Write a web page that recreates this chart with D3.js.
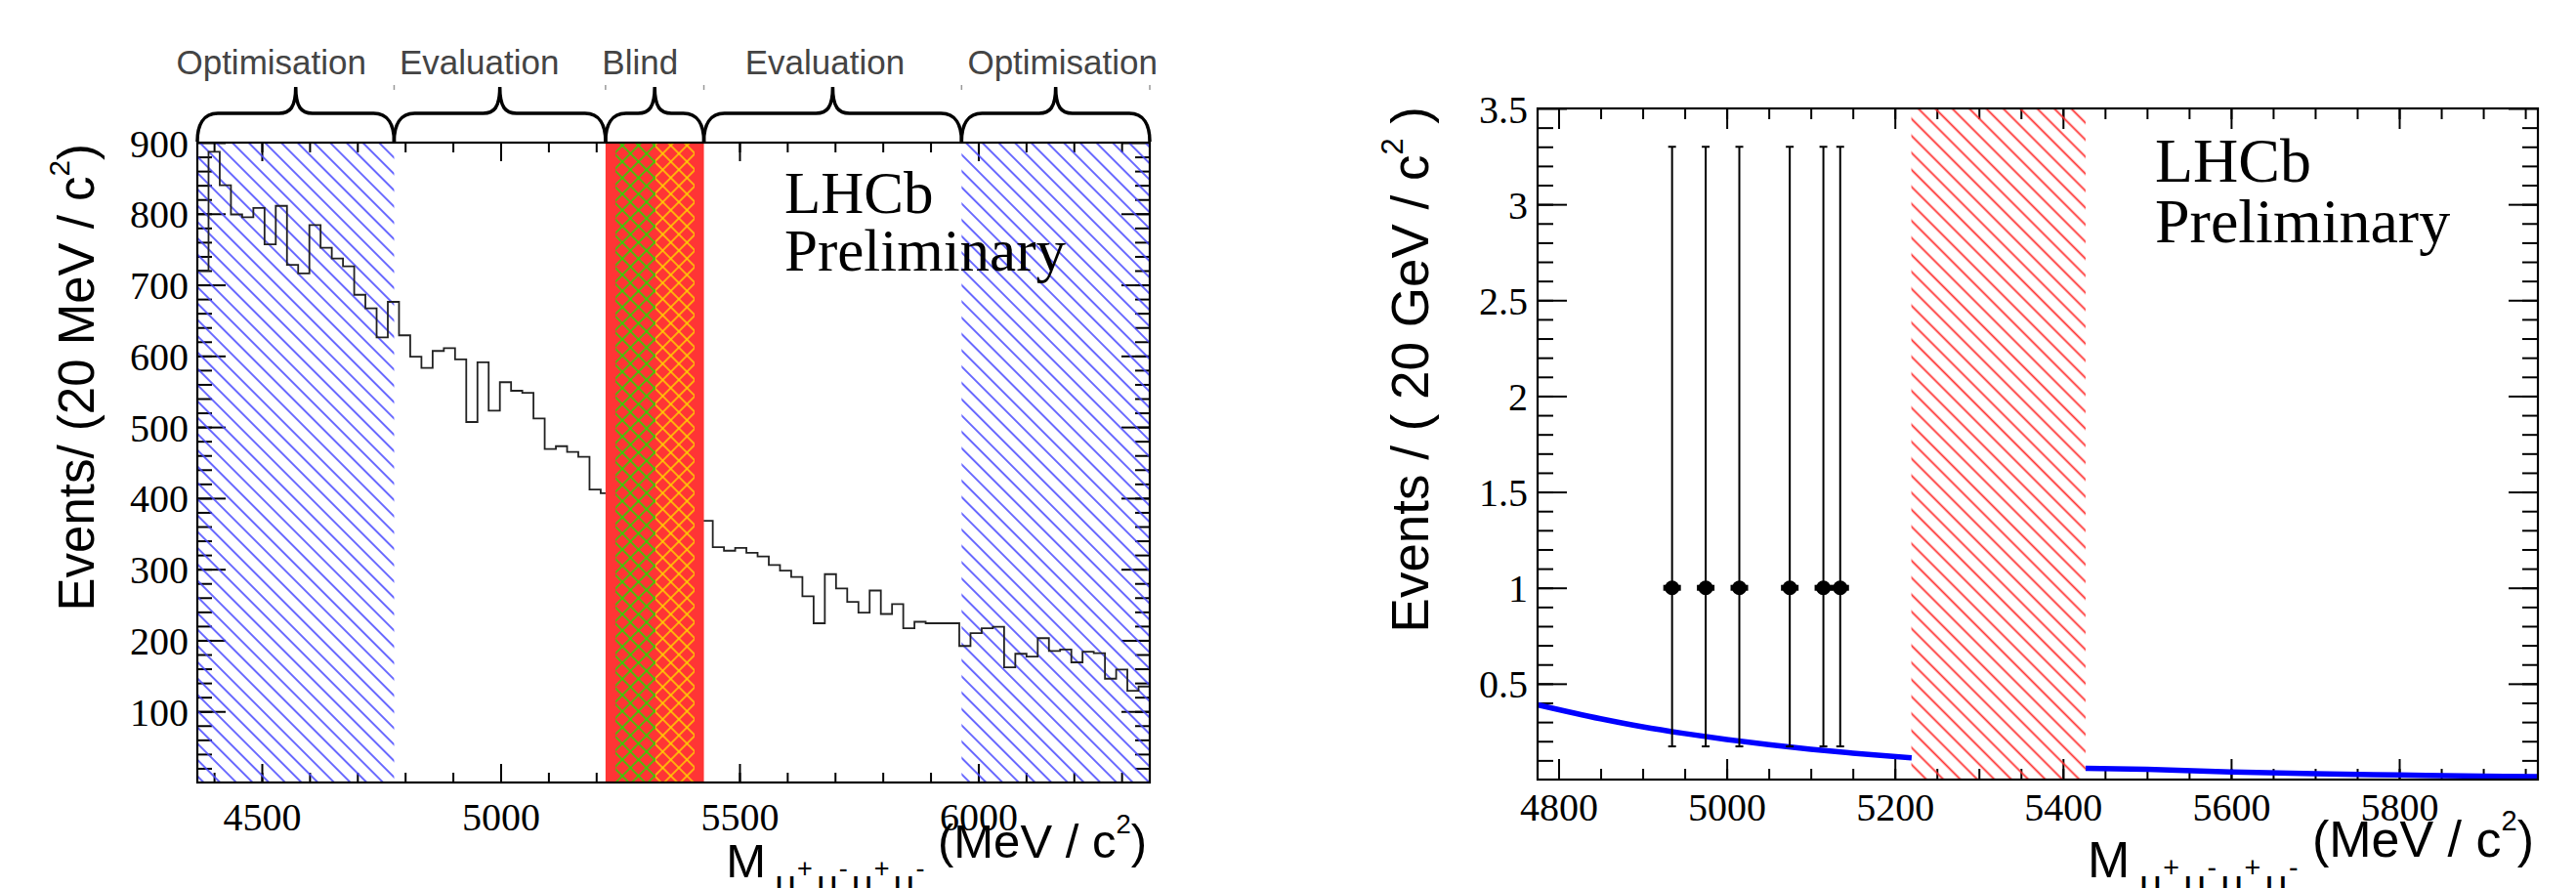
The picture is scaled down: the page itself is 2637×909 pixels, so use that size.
<!DOCTYPE html>
<meta charset="utf-8">
<script src="https://d3js.org/d3.v7.min.js"></script>
<style>
  body { margin: 0; background: #fff; }
</style>
<div id="chart"></div>
<script>

  // ---- left panel: 4-muon mass histogram ----
  const massRange = [4365, 6359];
  const massBins = 85;
  // counts per bin, bins inside the blind window are not shown
  const binCounts = [
    720, 887, 840, 799, 795, 808, 757, 811, 728, 716,
    784, 752, 737, 726, 686, 667, 626, 676, 629, 599,
    583, 607, 611, 595, 507, 591, 523, 563, 551, 548,
    512, 469, 473, 465, 458, 412, 407, null, null, null,
    null, null, null, null, null, 368, 331, 326, 330, 323,
    318, 306, 298, 289, 262, 224, 293, 273, 254, 239,
    270, 237, 251, 217, 226, 224, 224, 224, 192, 210,
    217, 219, 162, 181, 177, 203, 185, 187, 169, 184,
    182, 146, 159, 129, 135
  ];
  const regionEdges = [4365, 4777, 5219.6, 5425.5, 5965, 6359];
  const regionNames = ["Optimisation", "Evaluation", "Blind", "Evaluation", "Optimisation"];
  const regionKinds = ["opt", "eval", "blind", "eval", "opt"];
  const b0Window = [5240.5, 5324];
  const bsWindow = [5324, 5406];
  const xTicksL = [4500, 5000, 5500, 6000];
  const yTicksL = [100, 200, 300, 400, 500, 600, 700, 800, 900];

  // ---- right panel: events in the evaluation region ----
  const fitRange = [4775, 5965];
  const eventMass = [4935, 4975, 5015, 5075, 5115, 5135];
  const eventCount = [1, 1, 1, 1, 1, 1];
  const eventErrLow = [0.827, 0.827, 0.827, 0.827, 0.827, 0.827];
  const eventErrHigh = [2.30, 2.30, 2.30, 2.30, 2.30, 2.30];
  const fitLeftMass = [4775, 4850, 4900, 4950, 5000, 5050, 5100, 5150, 5220];
  const fitLeftVal = [0.39, 0.317, 0.275, 0.240, 0.209, 0.182, 0.158, 0.138, 0.113];
  const fitRightMass = [5427, 5500, 5600, 5700, 5800, 5900, 5965];
  const fitRightVal = [0.059, 0.053, 0.040, 0.031, 0.024, 0.018, 0.015];
  const blindR = [5219.6, 5426.9];
  const xTicksR = [4800, 5000, 5200, 5400, 5600, 5800];
  const yTicksR = [0.5, 1, 1.5, 2, 2.5, 3, 3.5];

  const W = 2637, H = 909;
  const sans = "'Liberation Sans', Arial, sans-serif";
  const serif = "'Liberation Serif', 'Times New Roman', serif";

  const svg = d3.select("#chart").append("svg")
      .attr("width", W)
      .attr("height", H);
  svg.append("rect").attr("width", W).attr("height", H).attr("fill", "#fff");

  const defs = svg.append("defs");

  // 45 degree hatch (single or crossed)
  function hatch(id, color, size, width, cross) {
    const p = defs.append("pattern")
        .attr("id", id)
        .attr("patternUnits", "userSpaceOnUse")
        .attr("width", size)
        .attr("height", size)
        .attr("patternTransform", cross ? "rotate(45)" : "rotate(-45)");
    p.append("line")
        .attr("x1", size / 2).attr("x2", size / 2)
        .attr("y1", 0).attr("y2", size)
        .attr("stroke", color).attr("stroke-width", width);
    if (cross) p.append("line")
        .attr("x1", 0).attr("x2", size)
        .attr("y1", size / 2).attr("y2", size / 2)
        .attr("stroke", color).attr("stroke-width", width);
  }
  hatch("blueHatch", "#4646ff", 11.8, 1.6, false);
  hatch("redHatch", "#ff3030", 12.3, 1.8, false);
  hatch("greenCross", "#1ee000", 11.7, 1.5, true);
  hatch("yellowCross", "#ffd400", 11.7, 1.5, true);

  const xL = d3.scaleLinear().domain(massRange).range([202, 1177]);
  const yL = d3.scaleLinear().domain([0, 900]).range([801, 146]);
  const xR = d3.scaleLinear().domain(fitRange).range([1574, 2598]);
  const yR = d3.scaleLinear().domain([0, 3.5]).range([798, 111]);

  // ticks on all four sides, pointing inwards (ROOT style)
  function drawTicks(x, y, o) {
    const [xa, xb] = x.range(), [yb, yt] = y.range();
    const g = svg.append("g");
    const side = (axis, tr, vals, len, labels) => {
      const a = g.append("g").attr("transform", tr)
          .call(axis.tickValues(vals).tickSize(-len).tickFormat(labels ? d3.format("") : ""));
      a.select(".domain").remove();
      a.selectAll("line").attr("stroke", "#000").attr("stroke-width", 2);
      return a;
    };
    side(d3.axisBottom(x), `translate(0,${yb})`, o.xMinor, o.xMinorLen);
    const bx = side(d3.axisBottom(x), `translate(0,${yb})`, o.xMajor, o.xMajorLen, true);
    side(d3.axisTop(x), `translate(0,${yt})`, o.xMinor, o.xMinorLen);
    side(d3.axisTop(x), `translate(0,${yt})`, o.xMajor, o.xMajorLen);
    side(d3.axisLeft(y), `translate(${xa},0)`, o.yMinor, o.yMinorLen);
    const ly = side(d3.axisLeft(y), `translate(${xa},0)`, o.yMajor, o.yMajorLen, true);
    side(d3.axisRight(y), `translate(${xb},0)`, o.yMinor, o.yMinorLen);
    side(d3.axisRight(y), `translate(${xb},0)`, o.yMajor, o.yMajorLen);
    [bx, ly].forEach(a => a.selectAll("text")
        .attr("font-family", serif)
        .attr("font-size", 40)
        .attr("fill", "#000"));
    bx.selectAll("text").attr("y", o.xLabelDy).attr("dy", null);
    ly.selectAll("text").attr("x", -o.yLabelGap).attr("y", 14).attr("dy", null);
  }

  function frame(x, y) {
    const [xa, xb] = x.range(), [yb, yt] = y.range();
    svg.append("rect")
        .attr("x", xa).attr("y", yt)
        .attr("width", xb - xa).attr("height", yb - yt)
        .attr("fill", "none").attr("stroke", "#000").attr("stroke-width", 2.2);
  }

  function band(x, y, from, to, fill) {
    const [yb, yt] = y.range();
    svg.append("rect")
        .attr("x", x(from)).attr("y", yt)
        .attr("width", x(to) - x(from)).attr("height", yb - yt)
        .attr("fill", fill);
  }

  // ================= left panel =================
  drawTicks(xL, yL, {
    xMajor: xTicksL, xMinor: d3.range(4400, 6400, 100), xMajorLen: 19, xMinorLen: 10,
    yMajor: yTicksL, yMinor: d3.range(20, 900, 20), yMajorLen: 29, yMinorLen: 15,
    xLabelDy: 49, yLabelGap: 9
  });

  regionKinds.forEach((k, i) => {
    if (k === "opt") band(xL, yL, regionEdges[i], regionEdges[i + 1], "url(#blueHatch)");
  });

  const binW = (massRange[1] - massRange[0]) / massBins;
  const steps = binCounts.flatMap((v, i) => [
    [massRange[0] + i * binW, v], [massRange[0] + (i + 1) * binW, v]
  ]);
  svg.append("path")
      .attr("d", d3.line()
        .defined(d => d[1] != null)
        .x(d => xL(d[0]))
        .y(d => yL(d[1]))(steps))
      .attr("fill", "none")
      .attr("stroke", "#222")
      .attr("stroke-width", 1.8);

  regionKinds.forEach((k, i) => {
    if (k === "blind") band(xL, yL, regionEdges[i], regionEdges[i + 1], "#ff3535");
  });
  band(xL, yL, b0Window[0], b0Window[1], "url(#greenCross)");
  band(xL, yL, bsWindow[0], bsWindow[1], "url(#yellowCross)");

  frame(xL, yL);

  // braces and region labels
  const braceBase = 145, braceArm = 116, braceTip = 89;
  const labelShift = [-25, -21, -15, -8, 7];
  function brace(a, b) {
    const c = (a + b) / 2;
    return `M${a},${braceBase} C${a},${braceArm + 12} ${a + 6},${braceArm} ${a + 21},${braceArm}` +
      ` L${c - 17},${braceArm} C${c - 6},${braceArm} ${c},${braceArm - 6} ${c},${braceTip}` +
      ` C${c},${braceArm - 6} ${c + 6},${braceArm} ${c + 17},${braceArm}` +
      ` L${b - 21},${braceArm} C${b - 6},${braceArm} ${b},${braceArm + 12} ${b},${braceBase}`;
  }
  regionNames.forEach((name, i) => {
    const a = xL(regionEdges[i]), b = xL(regionEdges[i + 1]);
    svg.append("path")
        .attr("d", brace(a, b))
        .attr("fill", "none")
        .attr("stroke", "#000")
        .attr("stroke-width", 3.5);
    svg.append("text")
        .attr("x", (a + b) / 2 + labelShift[i])
        .attr("y", 76)
        .attr("text-anchor", "middle")
        .attr("font-family", sans)
        .attr("font-size", 35)
        .attr("fill", "#444")
        .text(name);
    svg.append("line")
        .attr("x1", b).attr("x2", b)
        .attr("y1", 87).attr("y2", 92)
        .attr("stroke", "#999").attr("stroke-width", 1.5);
  });

  // ================= right panel =================
  drawTicks(xR, yR, {
    xMajor: xTicksR, xMinor: d3.range(4800, 5966, 50), xMajorLen: 21, xMinorLen: 11,
    yMajor: yTicksR, yMinor: d3.range(1, 35).map(d => d / 10), yMajorLen: 30, yMinorLen: 16,
    xLabelDy: 42, yLabelGap: 10
  });

  band(xR, yR, blindR[0], blindR[1], "url(#redHatch)");

  const fitLine = d3.line().x(d => xR(d[0])).y(d => yR(d[1])).curve(d3.curveMonotoneX);
  [[fitLeftMass, fitLeftVal], [fitRightMass, fitRightVal]].forEach(([ms, vs]) => {
    svg.append("path")
        .attr("d", fitLine(ms.map((m, i) => [m, vs[i]])))
        .attr("fill", "none")
        .attr("stroke", "#0000ff")
        .attr("stroke-width", 5.5);
  });

  const pts = svg.append("g").attr("stroke", "#000").attr("stroke-width", 2);
  eventMass.forEach((m, i) => {
    const cx = xR(m), lo = yR(eventCount[i] - eventErrLow[i]), hi = yR(eventCount[i] + eventErrHigh[i]);
    pts.append("line").attr("x1", cx).attr("x2", cx).attr("y1", lo).attr("y2", hi);
    pts.append("line").attr("x1", cx - 4).attr("x2", cx + 4).attr("y1", lo).attr("y2", lo);
    pts.append("line").attr("x1", cx - 4).attr("x2", cx + 4).attr("y1", hi).attr("y2", hi);
    pts.append("rect").attr("x", cx - 9).attr("y", yR(eventCount[i]) - 3)
        .attr("width", 18).attr("height", 6).attr("fill", "#000").attr("stroke", "none");
    pts.append("circle").attr("cx", cx).attr("cy", yR(eventCount[i])).attr("r", 7.5)
        .attr("fill", "#000").attr("stroke", "none");
  });

  frame(xR, yR);

  // ================= texts =================
  function lhcb(x, y1, y2, size) {
    const t = svg.append("g").attr("font-family", serif).attr("font-size", size).attr("fill", "#000");
    t.append("text").attr("x", x).attr("y", y1).text("LHCb");
    t.append("text").attr("x", x).attr("y", y2).text("Preliminary");
  }
  lhcb(803, 218, 277, 61);
  lhcb(2206, 186, 248, 64);

  function yTitle(x, y, size, before, after) {
    const t = svg.append("text")
        .attr("transform", `translate(${x},${y}) rotate(-90)`)
        .attr("text-anchor", "end")
        .attr("font-family", sans)
        .attr("font-size", size)
        .attr("fill", "#000");
    t.append("tspan").text(before);
    t.append("tspan").attr("font-size", size * 0.58).attr("dy", -size * 0.5).text("2");
    t.append("tspan").attr("dy", size * 0.5).text(after);
  }
  yTitle(96, 147, 51, "Events/ (20 MeV / c", ")");
  yTitle(1462, 109, 53, "Events / ( 20 GeV / c", " )");

  function xTitle(x, size) {
    const t = svg.append("text")
        .attr("x", x).attr("y", 898)
        .attr("text-anchor", "end")
        .attr("font-family", sans)
        .attr("font-size", size)
        .attr("fill", "#000");
    t.append("tspan").text("M");
    const sub = ["\u03bc", "+", "\u03bc", "-", "\u03bc", "+", "\u03bc", "-"];
    const k = size / 49;
    sub.forEach((s, i) => {
      const isMu = i % 2 === 0;
      t.append("tspan")
          .attr("font-size", (isMu ? 38 : 27) * k)
          .attr("dx", (isMu ? (i === 0 ? 9 : 4) : 1) * k)
          .attr("dy", (isMu ? 20 : -20) * k)
          .text(s);
    });
    t.append("tspan").attr("dy", -20 * k).text(" (MeV / c");
    t.append("tspan").attr("font-size", size * 0.56).attr("dy", -size * 0.52).text("2");
    t.append("tspan").attr("dy", size * 0.52).text(")");
  }
  xTitle(1174, 49);
  xTitle(2594, 52);

</script>
